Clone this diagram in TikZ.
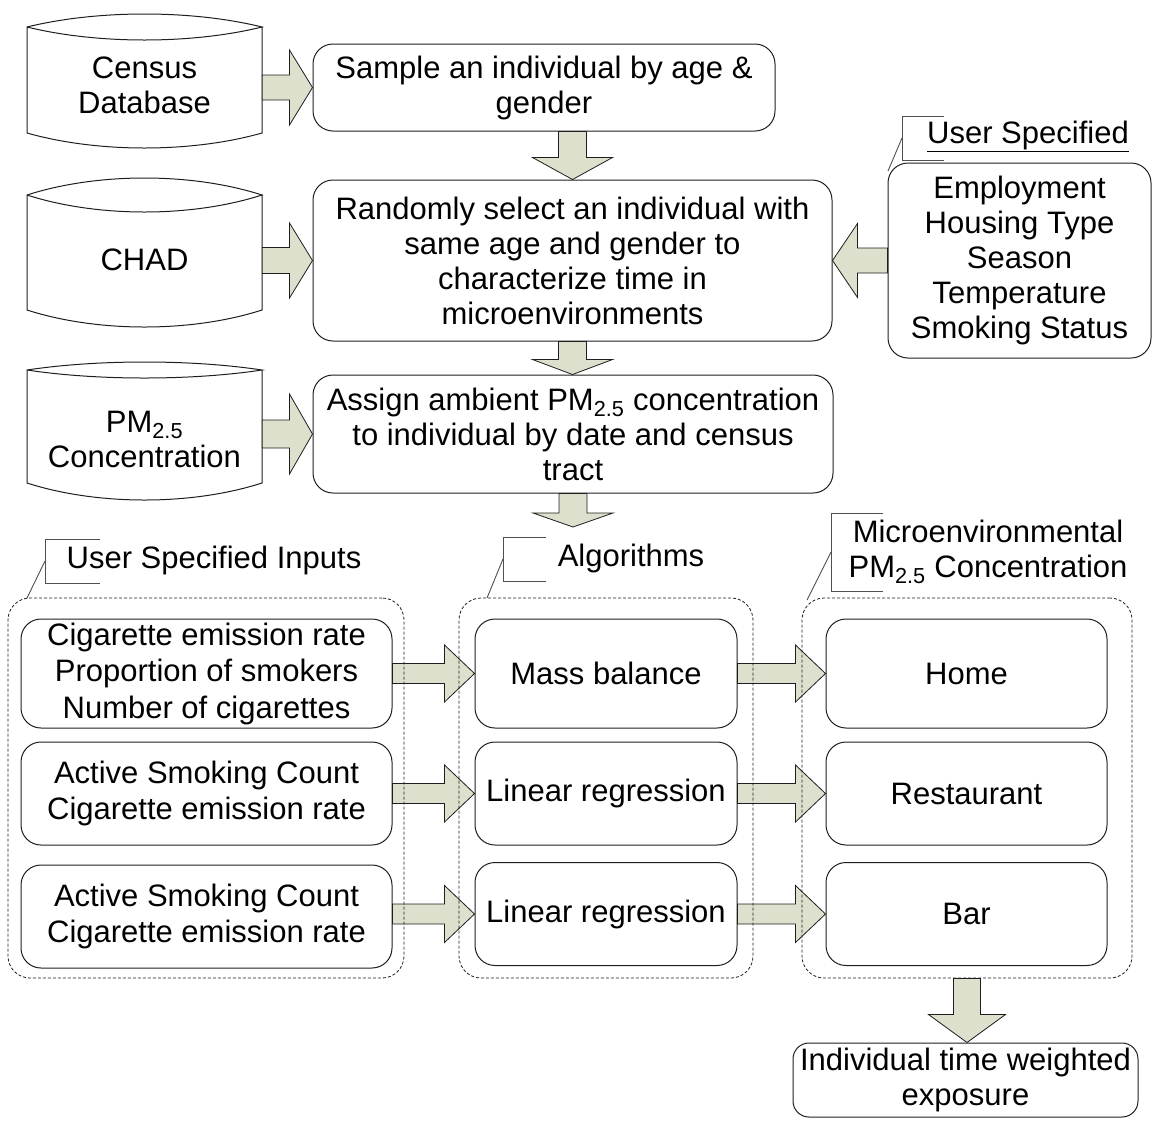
\documentclass[tikz,border=0pt]{standalone}
\usepackage{fontspec}
\setmainfont{Liberation Sans}
\usetikzlibrary{calc}
\pgfdeclarelayer{fg}
\pgfsetlayers{main,fg}
\definecolor{arrowfill}{RGB}{221,224,204}
\definecolor{lineblk}{RGB}{30,30,30}
\definecolor{calloutgray}{RGB}{80,80,80}
\tikzset{
  txt/.style={font=\fontsize{31}{35}\selectfont, align=center, inner sep=0pt},
  txtwide/.style={font=\fontsize{31}{36.5}\selectfont},
  procbox/.style={txt, draw=lineblk, line width=1pt, rounded corners=20pt},
  groupbox/.style={draw=lineblk, line width=0.8pt, dash pattern=on 3pt off 2pt, rounded corners=22pt, inner sep=0pt},
  blk/.style={draw=lineblk, line width=0.8pt, fill=arrowfill, line join=miter},
  cylline/.style={draw=lineblk, line width=1pt},
  callout/.style={draw=calloutgray, line width=0.9pt},
}
% right-pointing block arrow: start, tip, shaft half, head half, head length
\newcommand{\blkR}[5]{\draw[blk] let \p1=(#1), \p2=(#2) in (\x1,{\y2+#3pt}) -- ({\x2-#5pt},{\y2+#3pt}) -- ({\x2-#5pt},{\y2+#4pt}) -- (\x2,\y2) -- ({\x2-#5pt},{\y2-#4pt}) -- ({\x2-#5pt},{\y2-#3pt}) -- (\x1,{\y2-#3pt}) -- cycle;}
\newcommand{\blkL}[5]{\draw[blk] let \p1=(#1), \p2=(#2) in (\x1,{\y2+#3pt}) -- ({\x2+#5pt},{\y2+#3pt}) -- ({\x2+#5pt},{\y2+#4pt}) -- (\x2,\y2) -- ({\x2+#5pt},{\y2-#4pt}) -- ({\x2+#5pt},{\y2-#3pt}) -- (\x1,{\y2-#3pt}) -- cycle;}
\newcommand{\blkD}[5]{\draw[blk] let \p1=(#1), \p2=(#2) in ({\x2-#3pt},\y1) -- ({\x2-#3pt},{\y2+#5pt}) -- ({\x2-#4pt},{\y2+#5pt}) -- (\x2,\y2) -- ({\x2+#4pt},{\y2+#5pt}) -- ({\x2+#3pt},{\y2+#5pt}) -- ({\x2+#3pt},\y1) -- cycle;}
% cylinder: L R top corner band sideend bottom
\newcommand{\cylshape}[7]{\draw[cylline] (#1,#4) .. controls ({#1+0.3*(#2-#1)},{#4-4/3*(#4-#3)}) and ({#2-0.3*(#2-#1)},{#4-4/3*(#4-#3)}) .. (#2,#4) .. controls ({#2-0.3*(#2-#1)},{#4+4/3*(#5-#4)}) and ({#1+0.3*(#2-#1)},{#4+4/3*(#5-#4)}) .. (#1,#4) -- (#1,#6) .. controls ({#1+0.3*(#2-#1)},{#6+4/3*(#7-#6)}) and ({#2-0.3*(#2-#1)},{#6+4/3*(#7-#6)}) .. (#2,#6) -- (#2,#4);}
\begin{document}
\begin{tikzpicture}[x=1pt,y=-1pt]
\useasboundingbox (0,0) rectangle (1153,1120);

% cylinders
\cylshape{27}{262}{14}{27}{40}{133}{148}
\cylshape{27}{262}{178}{195}{212}{310}{327}
\cylshape{27}{262}{362}{370}{378}{483}{500}
\node[txt, minimum width=235pt] (census) at (144.5,85) {Census\\Database};
\node[txt, minimum width=235pt] (chad) at (144.5,260) {CHAD};
\node[txt, minimum width=235pt] (pm) at (144.5,439) {PM\textsubscript{2.5}\\Concentration};

% process boxes
\node[procbox, minimum width=462pt, minimum height=87pt] (sample) at (544,87.5) {Sample an individual by age \&\\gender};
\node[procbox, minimum width=519pt, minimum height=161pt] (random) at (572.5,260.5) {Randomly select an individual with\\same age and gender to\\characterize time in\\microenvironments};
\node[procbox, minimum width=520pt, minimum height=118pt] (assign) at (573,434) {Assign ambient PM\textsubscript{2.5} concentration\\to individual by date and census\\tract};
\node[procbox, minimum width=263pt, minimum height=195pt] (user) at (1019.5,260.5) {Employment\\Housing Type\\Season\\Temperature\\Smoking Status};
\node[procbox, rounded corners=16pt, minimum width=345pt, minimum height=74pt] (final) at (965.5,1080) {Individual time weighted\\exposure};

% lower boxes
\node[procbox, txtwide, minimum width=371pt, minimum height=109pt] (in1) at (206.5,673.5) {Cigarette emission rate\\Proportion of smokers\\Number of cigarettes};
\node[procbox, txtwide, minimum width=371pt, minimum height=103pt] (in2) at (206.5,793.5) {Active Smoking Count\\Cigarette emission rate};
\node[procbox, txtwide, minimum width=371pt, minimum height=103pt] (in3) at (206.5,916.5) {Active Smoking Count\\Cigarette emission rate};
\node[procbox, minimum width=262pt, minimum height=109pt] (alg1) at (606,673.5) {Mass balance};
\node[procbox, minimum width=262pt, minimum height=103pt] (alg2) at (606,793.5) {Linear regression};
\node[procbox, minimum width=262pt, minimum height=103pt] (alg3) at (606,914) {Linear regression};
\node[procbox, minimum width=281pt, minimum height=109pt] (res1) at (966.5,673.5) {Home};
\node[procbox, minimum width=281pt, minimum height=103pt] (res2) at (966.5,793.5) {Restaurant};
\node[procbox, minimum width=281pt, minimum height=103pt] (res3) at (966.5,914) {Bar};

% groups (dashed, on top)
\begin{pgfonlayer}{fg}
\node[groupbox, minimum width=396pt, minimum height=380pt] (g1) at (206,788) {};
\node[groupbox, minimum width=294pt, minimum height=380pt] (g2) at (606,788) {};
\node[groupbox, minimum width=330pt, minimum height=380pt] (g3) at (967,788) {};
\end{pgfonlayer}

% callouts
\node[txt] (lblUser) at (1028,136) {\underline{User Specified}};
\draw[callout] (944,116) -- (902,116) -- (902,160) -- (944,160);
\draw[callout] (902,138) -- (888,171);
\node[txt] (lblG1) at (214,560) {User Specified Inputs};
\draw[callout] (100,539) -- (45,539) -- (45,583) -- (100,583);
\draw[callout] (45,561) -- (27,598);
\node[txt] (lblG2) at (631,558) {Algorithms};
\draw[callout] (546,537) -- (503,537) -- (503,581) -- (546,581);
\draw[callout] (503,559) -- (487,598);
\node[txt] (lblG3) at (988,552) {Microenvironmental\\PM\textsubscript{2.5} Concentration};
\draw[callout] (883,513) -- (831,513) -- (831,591) -- (883,591);
\draw[callout] (831,552) -- (807,600);

% block arrows
\blkR{census.east |- sample.west}{sample.west}{12.5}{37.5}{23}
\blkR{chad.east |- random.west}{random.west}{13}{37.5}{23}
\blkR{pm.east |- assign.west}{assign.west}{14}{40}{23}
\blkL{user.west}{random.east}{12.5}{37}{25}
\blkD{random.north |- sample.south}{random.north}{14}{40}{22}
\blkD{random.south}{random.south |- assign.north}{14}{40}{15}
\coordinate (drop) at (573,527);
\blkD{assign.south}{drop}{14}{40}{14}
\blkR{in1.east}{alg1.west}{10}{28.5}{30}
\blkR{in2.east}{alg2.west}{10}{28.5}{30}
\blkR{in3.east}{alg3.west}{10}{28.5}{30}
\blkR{alg1.east}{res1.west}{10}{28.5}{30}
\blkR{alg2.east}{res2.west}{10}{28.5}{30}
\blkR{alg3.east}{res3.west}{10}{28.5}{30}
\blkD{g3.south}{g3.south |- final.north}{13.5}{38.5}{28}
\end{tikzpicture}
\end{document}
